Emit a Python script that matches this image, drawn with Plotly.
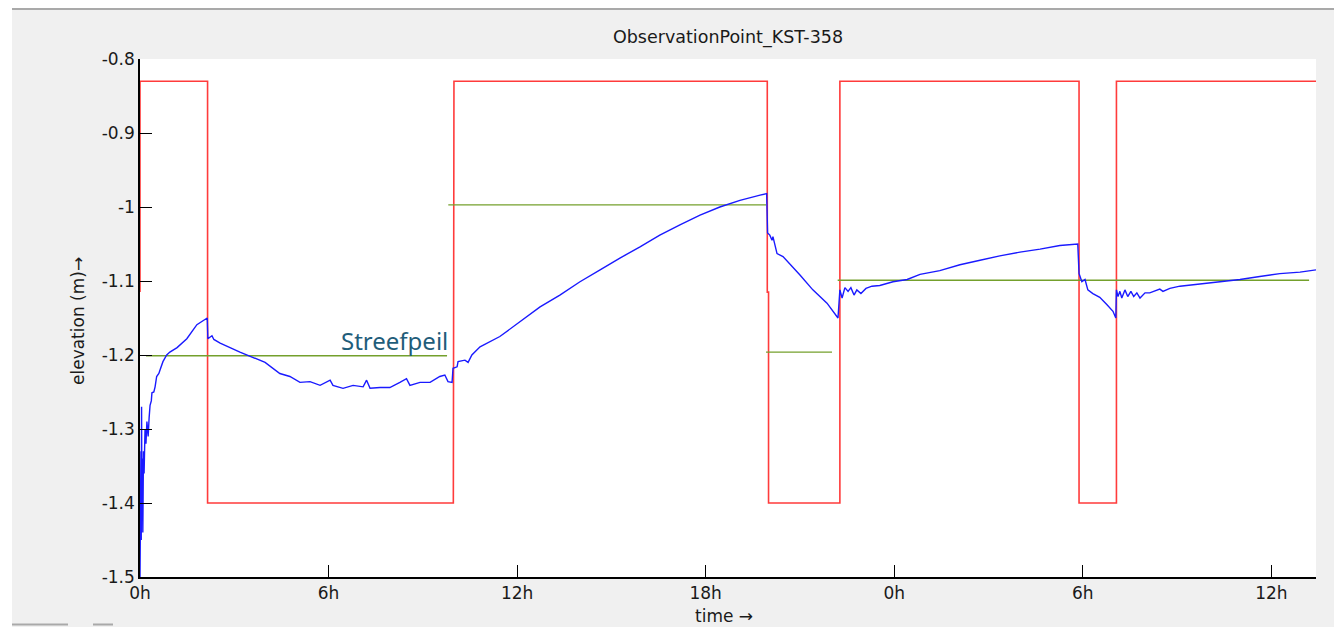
import plotly.graph_objects as go

# ---------------- data (hours since start, elevation in m) ----------------
blue_t = [0.00, 0.01, 0.02, 0.03, 0.04, 0.05, 0.06, 0.07, 0.09, 0.11, 0.13, 0.16, 0.19, 0.22,
          0.26, 0.29, 0.32, 0.36, 0.38, 0.44, 0.48, 0.53, 0.60, 0.64, 0.73, 0.85, 0.95, 1.18,
          1.49, 1.81, 2.14, 2.16, 2.22, 2.29, 2.35, 2.55, 3.18, 3.50, 3.98, 4.45, 4.77, 5.09,
          5.41, 5.73, 6.05, 6.14, 6.46, 6.78, 7.10, 7.21, 7.32, 7.64, 7.95, 8.27, 8.48, 8.59,
          8.91, 9.23, 9.54, 9.70, 9.80, 9.93, 9.96, 10.09, 10.12, 10.34, 10.44, 10.56, 10.82,
          11.45, 12.09, 12.73, 13.36, 14.00, 14.64, 15.27, 15.91, 16.54, 17.18, 17.82, 18.45,
          19.09, 19.73, 19.94, 19.97, 20.04, 20.11, 20.14, 20.27, 20.46, 21.00, 21.41, 21.86,
          22.05, 22.21, 22.27, 22.34, 22.43, 22.53, 22.62, 22.72, 22.81, 22.94, 23.10, 23.29,
          23.54, 23.96, 24.41, 24.82, 25.45, 26.09, 26.73, 27.36, 28.00, 28.64, 29.27, 29.84,
          29.88, 29.97, 30.07, 30.16, 30.32, 30.54, 30.77, 30.96, 31.05, 31.07, 31.12, 31.18,
          31.24, 31.34, 31.43, 31.53, 31.62, 31.72, 31.82, 31.98, 32.13, 32.45, 32.55, 32.77,
          33.09, 33.73, 34.36, 35.00, 35.63, 36.27, 36.91, 37.42]
blue_v = [-1.500, -1.340, -1.470, -1.330, -1.450, -1.270, -1.420, -1.340, -1.440, -1.330, -1.360,
          -1.300, -1.320, -1.290, -1.310, -1.285, -1.268, -1.262, -1.251, -1.250, -1.243, -1.229,
          -1.225, -1.220, -1.209, -1.200, -1.196, -1.190, -1.178, -1.159, -1.150, -1.178, -1.176,
          -1.174, -1.179, -1.184, -1.196, -1.202, -1.210, -1.225, -1.229, -1.237, -1.236, -1.241,
          -1.234, -1.241, -1.245, -1.241, -1.243, -1.234, -1.245, -1.244, -1.244, -1.237, -1.232,
          -1.241, -1.237, -1.237, -1.229, -1.227, -1.236, -1.237, -1.218, -1.216, -1.209, -1.207,
          -1.210, -1.200, -1.189, -1.175, -1.155, -1.135, -1.119, -1.101, -1.085, -1.069, -1.054,
          -1.038, -1.024, -1.011, -1.000, -0.991, -0.984, -0.982, -1.035, -1.038, -1.045, -1.040,
          -1.063, -1.067, -1.092, -1.112, -1.130, -1.141, -1.150, -1.112, -1.123, -1.109, -1.114,
          -1.109, -1.119, -1.112, -1.117, -1.110, -1.107, -1.106, -1.101, -1.098, -1.091, -1.086,
          -1.078, -1.072, -1.066, -1.061, -1.057, -1.052, -1.050, -1.090, -1.101, -1.098, -1.112,
          -1.117, -1.122, -1.132, -1.141, -1.150, -1.112, -1.121, -1.114, -1.123, -1.112, -1.121,
          -1.114, -1.121, -1.116, -1.123, -1.116, -1.116, -1.111, -1.114, -1.110, -1.107, -1.104,
          -1.102, -1.098, -1.094, -1.090, -1.088, -1.085]

red_t = [0.0, 0.0, 2.15, 2.15, 9.97, 9.97, 9.99, 9.99, 19.96, 19.96, 20.0, 20.0,
         22.27, 22.27, 29.88, 29.88, 31.07, 31.07, 37.45]
red_v = [-1.115, -0.83, -0.83, -1.40, -1.40, -1.115, -1.115, -0.83, -0.83, -1.115, -1.115, -1.40,
         -1.40, -0.83, -0.83, -1.40, -1.40, -0.83, -0.83]

green_t = [0.19, 9.77, None, 9.81, 19.92, None, 19.92, 22.02, None, 22.2, 37.2]
green_v = [-1.201, -1.201, None, -0.997, -0.997, None, -1.196, -1.196, None, -1.099, -1.099]

x_tickvals = [0, 6, 12, 18, 24, 30, 36]
x_ticktext = ["0h", "6h", "12h", "18h", "0h", "6h", "12h"]
y_tickvals = [-0.8, -0.9, -1.0, -1.1, -1.2, -1.3, -1.4, -1.5]
y_ticktext = ["-0.8", "-0.9", "-1", "-1.1", "-1.2", "-1.3", "-1.4", "-1.5"]

title_text = "ObservationPoint_KST-358"
xlabel = "time \u2192"
ylabel = "elevation (m)\u2192"
note_text = "Streefpeil"

# ---------------- figure ----------------
# the page body has an 8px margin, so the figure is 8px smaller and starts at (8, 8)
FONT = "DejaVu Sans"
OFF = 8
fig = go.Figure()
fig.add_trace(go.Scatter(x=red_t, y=red_v, mode="lines",
                         line=dict(color="#ff3b3b", width=1.6), hoverinfo="skip"))
fig.add_trace(go.Scatter(x=green_t, y=green_v, mode="lines", connectgaps=False,
                         line=dict(color="#74a02c", width=1.3), hoverinfo="skip"))
fig.add_trace(go.Scatter(x=blue_t, y=blue_v, mode="lines",
                         line=dict(color="#1a1aff", width=1.4), hoverinfo="skip"))

fig.update_layout(
    width=1342 - OFF, height=627 - OFF,
    margin=dict(l=140 - OFF, r=26, t=59 - OFF, b=50),
    paper_bgcolor="#f0f0f0",
    plot_bgcolor="white",
    showlegend=False,
    font=dict(family=FONT, size=17, color="#1a1a1a"),
    title=dict(text=title_text, x=0.5, xref="paper", xanchor="center",
               y=1 - (37 - OFF) / (627 - OFF), yanchor="middle",
               font=dict(family=FONT, size=17.5, color="#1a1a1a")),
    xaxis=dict(range=[0, 37.42], tickvals=x_tickvals, ticktext=x_ticktext,
               ticks="inside", ticklen=12, tickwidth=1.2, tickcolor="black",
               showline=True, linecolor="black", linewidth=1.5, mirror=False,
               showgrid=False, zeroline=False, fixedrange=True),
    yaxis=dict(range=[-1.5, -0.8], tickvals=y_tickvals, ticktext=y_ticktext,
               ticks="inside", ticklen=12, tickwidth=1.2, tickcolor="black",
               showline=True, linecolor="black", linewidth=1.5, mirror=False,
               showgrid=False, zeroline=False, fixedrange=True),
)

# helpers: page pixel -> paper coordinate (plot area spans x 140..1316, y 59..577 on the page)
W, H, L, B = 1176, 518, 140, 577
def px(x):
    return (x - L) / W
def py(y):
    return (B - y) / H

# axis titles
fig.add_annotation(text=xlabel, xref="paper", yref="paper", x=px(724),
                   y=py(604), xanchor="center", yanchor="top", showarrow=False,
                   font=dict(family=FONT, size=17, color="#1a1a1a"))
fig.add_annotation(text=ylabel, xref="paper", yref="paper", x=px(78),
                   y=py(321), xanchor="center", yanchor="middle", textangle=-90,
                   showarrow=False, font=dict(family=FONT, size=17, color="#1a1a1a"))
# label on setpoint
fig.add_annotation(text=note_text, x=9.86, y=-1.18, xref="x", yref="y",
                   xanchor="right", yanchor="middle", showarrow=False,
                   font=dict(family="Noto Sans", size=24, color="#1f5d7a"))

# window chrome around the figure
fig.add_shape(type="rect", xref="paper", yref="paper", x0=px(OFF), x1=px(12), y0=py(627), y1=py(OFF),
              fillcolor="white", line=dict(width=0), layer="below")
fig.add_shape(type="line", xref="paper", yref="paper", x0=px(12), x1=px(1342), y0=py(9), y1=py(9),
              line=dict(color="#a9a9a9", width=2), layer="below")
fig.add_shape(type="line", xref="paper", yref="paper", x0=px(12), x1=px(68), y0=py(624.5), y1=py(624.5),
              line=dict(color="#a9a9a9", width=2), layer="below")
fig.add_shape(type="line", xref="paper", yref="paper", x0=px(93), x1=px(113), y0=py(624.5), y1=py(624.5),
              line=dict(color="#a9a9a9", width=2), layer="below")

fig.write_html("out.html", config={"displayModeBar": False})
